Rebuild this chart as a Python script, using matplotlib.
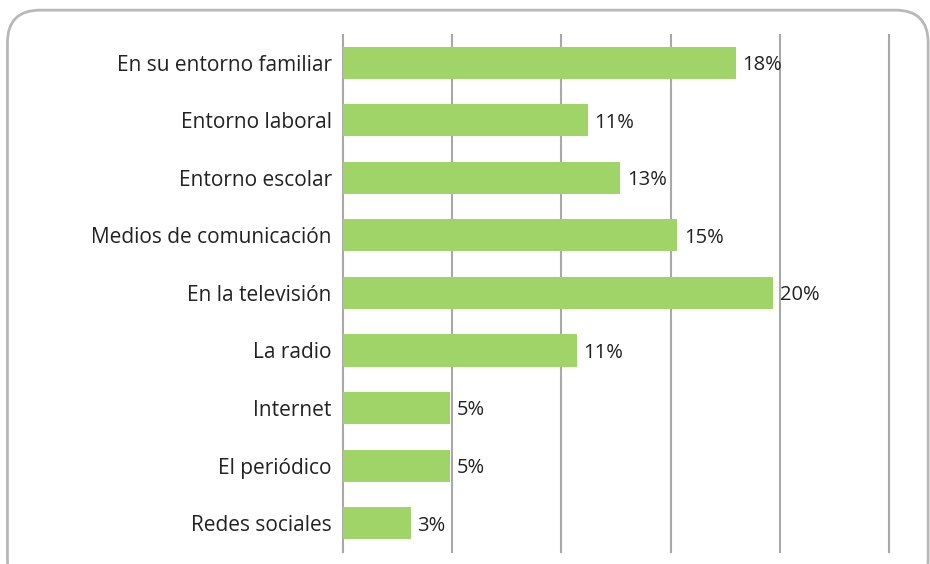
import matplotlib.pyplot as plt
from matplotlib.patches import FancyBboxPatch

plt.rcParams['font.family'] = ['Open Sans', 'DejaVu Sans']

categories = ['En su entorno familiar', 'Entorno laboral', 'Entorno escolar',
              'Medios de comunicación', 'En la televisión', 'La radio',
              'Internet', 'El periódico', 'Redes sociales']
values = [18.0, 11.2, 12.7, 15.3, 19.7, 10.7, 4.9, 4.9, 3.1]
xticks = [0, 5, 10, 15, 20, 25]

fig = plt.figure(figsize=(9.3, 5.64), dpi=100)

# rounded frame around the whole chart
frame = FancyBboxPatch((0.008, -0.05), 0.99, 1.032,
                       boxstyle='round,pad=0,rounding_size=0.035',
                       transform=fig.transFigure, facecolor='none',
                       edgecolor='#b8b8b8', linewidth=2, mutation_aspect=930 / 564,
                       zorder=-1)
fig.patches.append(frame)

ax = fig.add_axes([0.3688, 0.0213, 0.5871, 0.9166])
ax.set_facecolor('none')
y = range(len(categories))
bars = ax.barh(y, values, height=0.56, color='#a0d468', zorder=3)

for b, v in zip(bars, values):
    ax.text(b.get_width() + 0.3, b.get_y() + b.get_height() / 2 + 0.04,
            f'{v:.0f}%', va='center', ha='left', fontsize=14.5, color='#222222')

ax.set_xlim(0, 25)
ax.set_ylim(len(categories) - 0.5, -0.48)
ax.set_xticks(xticks)
ax.set_yticks(list(y))
ax.set_yticklabels(categories, fontsize=15, color='#222222')
ax.tick_params(axis='y', length=0, pad=8)
ax.tick_params(axis='x', length=0, labelbottom=False)
ax.grid(axis='x', color='#a8a8a8', linewidth=1.5, zorder=0)
for gl in ax.get_xgridlines():
    gl.set_clip_on(False)
for s in ax.spines.values():
    s.set_visible(False)

fig.savefig('out.png', dpi=100)
